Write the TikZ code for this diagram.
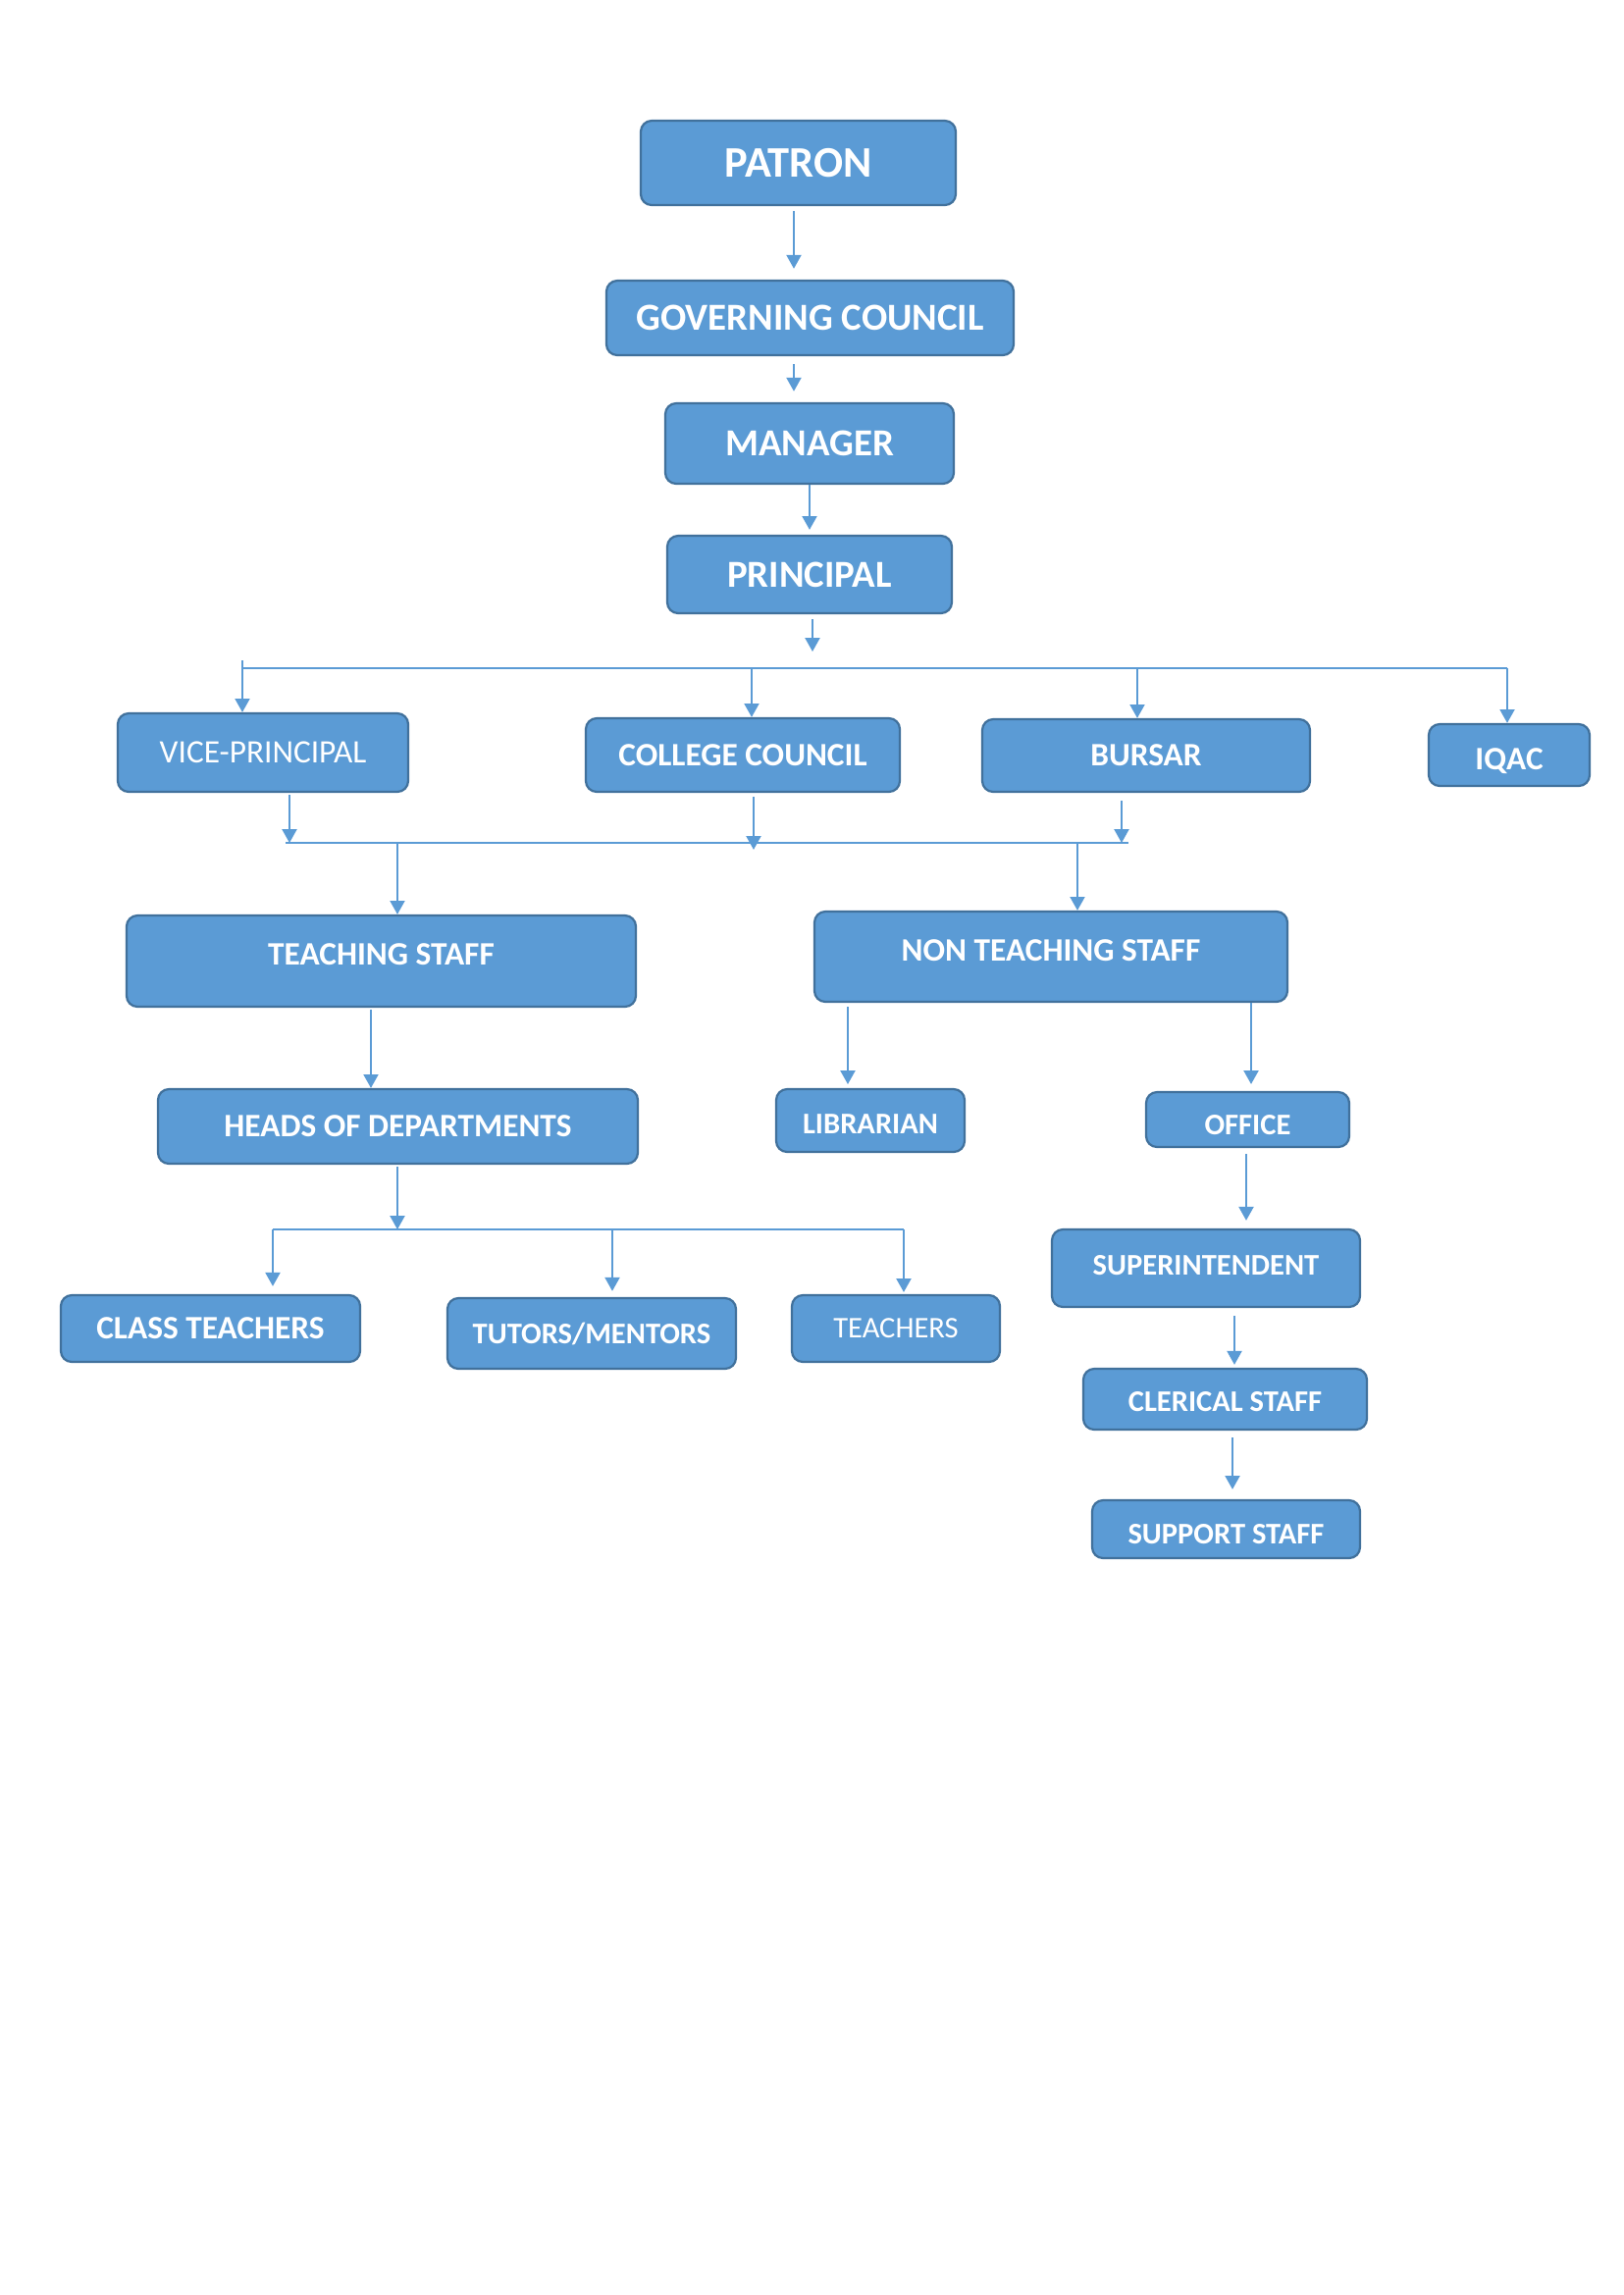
\documentclass[tikz,border=0pt]{standalone}
\usepackage{fontspec}
\setmainfont{Carlito}
\usepackage{tikz}
\usetikzlibrary{arrows.meta,positioning}
\definecolor{boxblue}{RGB}{91,155,213}
\definecolor{edgeblue}{RGB}{65,113,156}
\newcommand{\pxu}{0.36pt}

\tikzset{
  orgbox/.style 2 args={draw=edgeblue, line width=0.8pt, fill=boxblue, rounded corners=4pt,
    text=white, inner sep=0pt, minimum width=#1*\pxu, minimum height=#2*\pxu},
  bigtext/.style={font=\bfseries\fontsize{16}{19}\selectfont},
  toptext/.style={font=\bfseries\fontsize{14}{17}\selectfont},
  midtext/.style={font=\bfseries\fontsize{12}{14}\selectfont},
  plaintext/.style={font=\fontsize{12}{14}\selectfont},
  smalltext/.style={font=\bfseries\fontsize{11}{13}\selectfont},
  smallplain/.style={font=\fontsize{11}{13}\selectfont},
  link/.style={draw=boxblue, line width=0.7pt, -{Triangle[length=5pt,width=5.4pt]}},
  wire/.style={draw=boxblue, line width=0.7pt}
}

\begin{document}
\begin{tikzpicture}[x=\pxu, y=-\pxu]
  \useasboundingbox (0,0) rectangle (1654,2339);

  % management
  \node[orgbox={321}{86}, bigtext] (patron) at (813.5,166) {PATRON};
  \node[orgbox={415}{76}, toptext] (gc) at (825.5,324) {GOVERNING COUNCIL};
  \node[orgbox={294}{82}, toptext] (manager) at (825,452) {MANAGER};
  \node[orgbox={290}{79}, toptext] (principal) at (825,585.5) {PRINCIPAL};

  % second row
  \node[orgbox={296}{80}, plaintext] (vp) at (268,767) {VICE-PRINCIPAL};
  \node[orgbox={320}{75}, midtext] (cc) at (757,769.5) {COLLEGE COUNCIL};
  \node[orgbox={334}{74}, midtext] (bursar) at (1168,770) {BURSAR};
  \node[orgbox={164}{63}, midtext, text height=12.6pt] (iqac) at (1538,769.5) {IQAC};

  % staff
  \node[orgbox={519}{93}, midtext, text depth=5pt] (ts) at (388.5,979.5) {TEACHING STAFF};
  \node[orgbox={482}{92}, midtext, text depth=5pt] (nts) at (1071,975) {NON TEACHING STAFF};
  \node[orgbox={489}{76}, midtext] (hod) at (405.5,1148) {HEADS OF DEPARTMENTS};
  \node[orgbox={192}{64}, smalltext, text height=9.9pt] (lib) at (887,1142) {LIBRARIAN};
  \node[orgbox={207}{56}, smalltext, text height=11.3pt] (office) at (1271.5,1141) {OFFICE};
  \node[orgbox={314}{79}, smalltext, text depth=2.2pt] (sup) at (1229,1292.5) {SUPERINTENDENT};
  \node[orgbox={289}{62}, smalltext, text height=9.2pt] (clerical) at (1248.5,1426) {CLERICAL STAFF};
  \node[orgbox={273}{59}, smalltext, text height=10.6pt] (support) at (1249.5,1558.5) {SUPPORT STAFF};

  % bottom row
  \node[orgbox={305}{68}, midtext] (ct) at (214.5,1354) {CLASS TEACHERS};
  \node[orgbox={294}{72}, smalltext] (tm) at (603,1359) {TUTORS/MENTORS};
  \node[orgbox={212}{68}, smallplain] (teachers) at (913,1354) {TEACHERS};

  % bus lines
  \coordinate (ptip) at (828,664);
  \coordinate (topw) at (247,681);
  \coordinate (tope) at (1536,681);
  \coordinate (midw) at (291,859);
  \coordinate (mide) at (1150,859);
  \coordinate (loww) at (278,1253);
  \coordinate (lowe) at (921,1253);

  % arrows down the chain
  \draw[link, shorten <=1.8pt, shorten >=4pt] (patron.south -| 809,0) -- (gc.north -| 809,0);
  \draw[link, shorten <=2.9pt, shorten >=4pt] (gc.south -| 809,0) -- (manager.north -| 809,0);
  \draw[link, shorten >=1.8pt] (manager.south -| 825,0) -- (principal.north -| 825,0);
  \draw[link, shorten <=1.8pt] (principal.south -| ptip) -- (ptip);

  \draw[wire] (topw) -- (tope);
  \draw[link] (topw) ++(0,-8) -- (topw |- vp.north);
  \draw[link] (topw -| 766,0) -- (cc.north -| 766,0);
  \draw[link] (topw -| 1159,0) -- (bursar.north -| 1159,0);
  \draw[link] (tope) -- (tope |- iqac.north);

  \draw[wire] (midw) -- (mide);
  \draw[link, shorten <=0.7pt] (vp.south -| 295,0) -- (midw -| 295,0);
  \draw[link, shorten <=1.4pt] (cc.south -| 768,0) -- ([yshift=-2.5pt]midw -| 768,0);
  \draw[link, shorten <=3pt] (bursar.south -| 1143,0) -- (midw -| 1143,0);
  \draw[link] (midw -| 405,0) -- (ts.north -| 405,0);
  \draw[link] (midw -| 1098,0) -- (nts.north -| 1098,0);

  \draw[link, shorten <=0.7pt] (ts.south -| 378,0) -- (hod.north -| 378,0);
  \draw[link, shorten <=1.4pt, shorten >=1.4pt] (nts.south -| 864,0) -- (lib.north -| 864,0);
  \draw[link, shorten >=2.5pt] (nts.south -| 1275,0) -- (office.north -| 1275,0);
  \draw[link, shorten <=2.2pt, shorten >=2.9pt] (office.south -| 1270,0) -- (sup.north -| 1270,0);
  \draw[link, shorten <=2.9pt, shorten >=1.1pt] (sup.south -| 1258,0) -- (clerical.north -| 1258,0);
  \draw[link, shorten <=2.5pt, shorten >=3.6pt] (clerical.south -| 1256,0) -- (support.north -| 1256,0);

  \draw[link, shorten <=0.7pt] (hod.south -| 405,0) -- (loww -| 405,0);
  \draw[wire] (loww) -- (lowe);
  \draw[link, shorten >=2.9pt] (loww) -- (loww |- ct.north);
  \draw[link, shorten >=2.2pt] (loww -| 624,0) -- (tm.north -| 624,0);
  \draw[link, shorten >=0.7pt] (lowe) -- (lowe |- teachers.north);
\end{tikzpicture}
\end{document}
